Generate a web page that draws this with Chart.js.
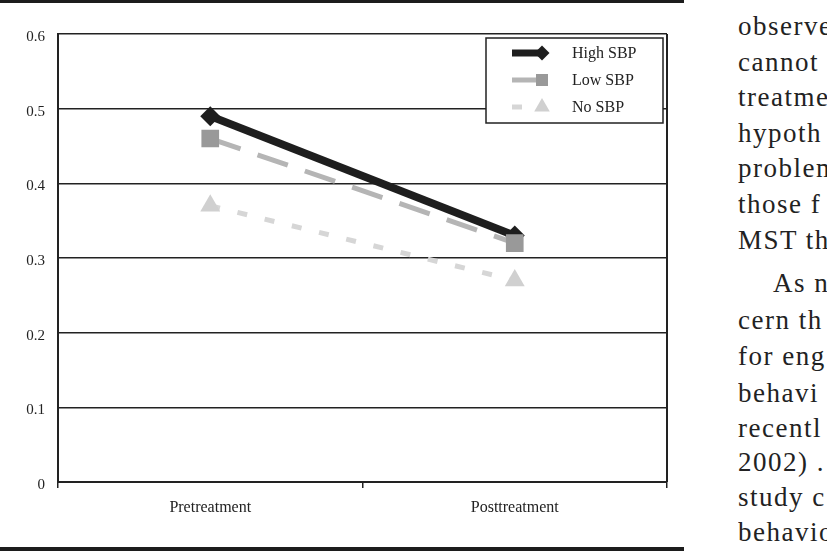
<!DOCTYPE html>
<html>
<head>
<meta charset="utf-8">
<title>SBP by treatment phase</title>
<script src="https://cdn.jsdelivr.net/npm/chart.js@4.4.1/dist/chart.umd.min.js"></script>
<style>
    html, body {
        margin: 0;
        padding: 0;
        background: #fff;
        width: 827px;
        height: 551px;
        overflow: hidden;
    }
    #page {
        position: relative;
        width: 827px;
        height: 551px;
        overflow: hidden;
    }
    .rule {
        position: absolute;
        left: 0;
        width: 684px;
        background: #1c1c1c;
    }
    #rule-top { top: 0; height: 3px; }
    #rule-bottom { top: 547px; height: 4px; }
    #chart-box {
        position: absolute;
        left: 0;
        top: 0;
        width: 684px;
        height: 551px;
    }
    #column {
        position: absolute;
        left: 738px;
        top: 0;
        width: 89px;
        height: 551px;
        overflow: hidden;
        font-family: "Liberation Serif", serif;
        font-size: 27px;
        letter-spacing: 1.5px;
        color: #222;
    }
    #column span {
        position: absolute;
        left: 0;
        white-space: nowrap;
        line-height: 27px;
    }
</style>
</head>
<body>
<div id="page">
    <div class="rule" id="rule-top"></div>
    <div id="chart-box"><canvas id="chart"></canvas></div>
    <div class="rule" id="rule-bottom"></div>
    <div id="column"></div>
</div>
<script>
// chart values
const categories = ["Pretreatment", "Posttreatment"];
const seriesNames = ["High SBP", "Low SBP", "No SBP"];
const highSBP = [0.49, 0.33];
const lowSBP = [0.46, 0.32];
const noSBP = [0.37, 0.27];
const yTickLabels = ["0", "0.1", "0.2", "0.3", "0.4", "0.5", "0.6"];

// running text of the page next to the figure (cut at the page edge)
const bodyLines = [
    "observe", "cannot", "treatme", "hypoth", "problem", "those f", "MST th",
    "As n", "cern th", "for eng", "behavi", "recentl", "2002) .", "study c", "behavio",
];
const bodyBaselines = [36, 71.5, 107, 143, 178, 214, 250, 293, 330, 366, 403, 438, 472, 507, 542];

const column = document.getElementById("column");
bodyLines.forEach((text, i) => {
    const span = document.createElement("span");
    span.textContent = text;
    span.style.top = (bodyBaselines[i] - 22.6) + "px";
    if (text === "As n") span.style.left = "35px";
    column.appendChild(span);
});

const INK = "#222";
const SERIF = "'Liberation Serif', 'Times New Roman', serif";

// right edge of the plot frame
const framePlugin = {
    id: "frame",
    beforeDatasetsDraw(chart) {
        const { ctx, chartArea } = chart;
        ctx.save();
        ctx.strokeStyle = INK;
        ctx.lineWidth = 2;
        ctx.beginPath();
        ctx.moveTo(chartArea.right, chartArea.top);
        ctx.lineTo(chartArea.right, chartArea.bottom);
        ctx.stroke();
        ctx.restore();
    },
};

// boxed legend in the upper right corner of the plot
const boxLegendPlugin = {
    id: "boxLegend",
    afterDraw(chart) {
        const { ctx, chartArea } = chart;
        const w = 177;
        const h = 85;
        const left = chartArea.right - 4 - w;
        const top = chartArea.top + 4;
        ctx.save();
        ctx.fillStyle = "#fff";
        ctx.fillRect(left, top, w, h);
        ctx.strokeStyle = INK;
        ctx.lineWidth = 1.5;
        ctx.strokeRect(left, top, w, h);

        const rows = [15, 42, 69];
        const sizes = [
            { lineEnd: 540, width: 7, radius: 7.5 },
            { lineEnd: 537, width: 5, radius: 8.5 },
            { lineEnd: 533, width: 5, radius: 9 },
        ];
        chart.data.datasets.forEach((ds, i) => {
            const y = top + rows[i];
            const s = sizes[i];
            ctx.save();
            ctx.strokeStyle = ds.borderColor;
            ctx.lineWidth = s.width;
            ctx.lineCap = "butt";
            ctx.setLineDash(ds.borderDash || []);
            ctx.beginPath();
            ctx.moveTo(left + 26, y);
            ctx.lineTo(s.lineEnd, y);
            ctx.stroke();
            ctx.restore();

            ctx.save();
            ctx.fillStyle = ds.pointBackgroundColor;
            ctx.strokeStyle = ds.pointBackgroundColor;
            Chart.helpers.drawPoint(ctx, {
                pointStyle: ds.pointStyle,
                radius: s.radius,
                rotation: 0,
                borderWidth: 0,
            }, 542, y);
            ctx.restore();

            ctx.fillStyle = INK;
            ctx.font = "16px " + SERIF;
            ctx.textBaseline = "middle";
            ctx.fillText(ds.label, left + 86, y + 1);
        });
        ctx.restore();
    },
};

new Chart(document.getElementById("chart"), {
    type: "line",
    data: {
        labels: categories,
        datasets: [
            {
                label: seriesNames[0],
                data: highSBP,
                borderColor: "#1e1e1e",
                borderWidth: 8,
                pointStyle: "rectRot",
                pointRadius: 10,
                pointBackgroundColor: "#1e1e1e",
                pointBorderWidth: 0,
                order: 3,
            },
            {
                label: seriesNames[1],
                data: lowSBP,
                borderColor: "#b5b5b5",
                borderWidth: 5,
                borderDash: [32, 18],
                pointStyle: "rect",
                pointRadius: 12.5,
                pointBackgroundColor: "#999999",
                pointBorderWidth: 0,
                order: 2,
            },
            {
                label: seriesNames[2],
                data: noSBP,
                borderColor: "#d6d6d6",
                borderWidth: 5,
                borderDash: [10, 18],
                pointStyle: "triangle",
                pointRadius: 11.5,
                pointBackgroundColor: "#d0d0d0",
                pointBorderWidth: 0,
                order: 1,
            },
        ],
    },
    options: {
        responsive: true,
        maintainAspectRatio: false,
        animation: false,
        layout: {
            padding: { top: 34, right: 17, left: 0, bottom: 0 },
        },
        plugins: {
            legend: { display: false },
            tooltip: { enabled: false },
        },
        scales: {
            x: {
                offset: true,
                grid: {
                    offset: true,
                    drawOnChartArea: false,
                    drawTicks: true,
                    tickLength: 6,
                    color: INK,
                    lineWidth: 1.5,
                },
                border: { display: true, color: INK, width: 2 },
                ticks: {
                    color: INK,
                    padding: 10,
                    maxRotation: 0,
                    font: { family: SERIF, size: 16 },
                },
                afterFit: (scale) => {
                    scale.height = 69;
                },
            },
            y: {
                min: 0,
                max: 0.6,
                grid: {
                    color: INK,
                    lineWidth: 1.5,
                    drawTicks: false,
                },
                border: { display: true, color: INK, width: 2 },
                ticks: {
                    stepSize: 0.1,
                    padding: 13,
                    labelOffset: 3,
                    color: INK,
                    font: { family: SERIF, size: 15 },
                    callback: (value, idx) => yTickLabels[idx],
                },
                afterFit: (scale) => {
                    scale.width = 58;
                },
            },
        },
    },
    plugins: [framePlugin, boxLegendPlugin],
});
</script>
</body>
</html>
